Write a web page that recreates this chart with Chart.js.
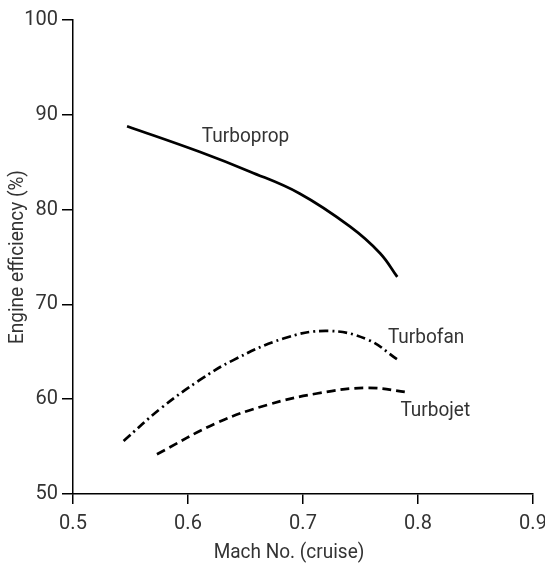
<!DOCTYPE html>
<html>
<head>
<meta charset="utf-8">
<script src="https://cdn.jsdelivr.net/npm/chart.js@4/dist/chart.umd.min.js"></script>
<style>
html,body{margin:0;padding:0;background:#fff;}
#wrap{width:545px;height:564px;}
</style>
</head>
<body>
<div id="wrap"><canvas id="c" width="545" height="564"></canvas></div>
<script>
const xTicks = [0.5, 0.6, 0.7, 0.8, 0.9];
const yTicks = [50, 60, 70, 80, 90, 100];

const turbopropX = [0.547, 0.610, 0.654, 0.697, 0.741, 0.767, 0.782];
const turbopropY = [88.8, 86.1, 84.0, 81.7, 78.2, 75.4, 72.9];

const turbofanX = [0.544, 0.576, 0.61, 0.639, 0.683, 0.721, 0.756, 0.782];
const turbofanY = [55.6, 59.0, 62.0, 64.1, 66.4, 67.2, 66.3, 64.2];

const turbojetX = [0.573, 0.625, 0.669, 0.712, 0.756, 0.793];
const turbojetY = [54.2, 57.5, 59.4, 60.6, 61.2, 60.7];

const curveLabels = ["Turboprop", "Turbofan", "Turbojet"];
const labelX = [0.650, 0.807, 0.815];
const labelY = [87.7, 66.5, 58.8];

const xTitle = "Mach No. (cruise)";
const yTitle = "Engine efficiency (%)";

const FONT = "'Roboto', 'Liberation Sans', sans-serif";
const TEXT = "#333333";

function pts(xs, ys){ return xs.map((x,i)=>({x:x, y:ys[i]})); }

function narrowText(ctx, t, x, y, rot){
  ctx.save();
  ctx.translate(x, y);
  if (rot) ctx.rotate(rot);
  ctx.scale(0.95, 1);
  ctx.fillText(t, 0, 0);
  ctx.restore();
}

const labelPlugin = {
  id: 'labels',
  afterDraw(chart){
    const ctx = chart.ctx;
    const xs = chart.scales.x, ys = chart.scales.y, ca = chart.chartArea;
    ctx.save();
    ctx.fillStyle = TEXT;
    ctx.font = "20px " + FONT;
    ctx.textAlign = 'center';
    ctx.textBaseline = 'middle';
    curveLabels.forEach((t,i)=>{
      narrowText(ctx, t, xs.getPixelForValue(labelX[i]), ys.getPixelForValue(labelY[i]), 0);
    });
    narrowText(ctx, xTitle, (ca.left + ca.right)/2 - 14, ca.bottom + 59, 0);
    narrowText(ctx, yTitle, 18, (ca.top + ca.bottom)/2, -Math.PI/2);
    ctx.restore();
  }
};

const common = {fill:false, borderColor:'#000', borderWidth:2.7, pointRadius:0, showLine:true, tension:0.4};

new Chart(document.getElementById('c'), {
  type: 'scatter',
  data: {
    datasets: [
      Object.assign({label:curveLabels[0], data:pts(turbopropX, turbopropY)}, common),
      Object.assign({label:curveLabels[1], data:pts(turbofanX, turbofanY), borderDash:[9,4,2,4]}, common),
      Object.assign({label:curveLabels[2], data:pts(turbojetX, turbojetY), borderDash:[9,5]}, common)
    ]
  },
  options: {
    responsive:false,
    animation:false,
    layout:{padding:{left:0, right:0, top:20, bottom:0}},
    plugins:{legend:{display:false}, tooltip:{enabled:false}},
    scales:{
      x:{
        type:'linear', min:0.5, max:0.9,
        afterBuildTicks(s){ s.ticks = xTicks.map(v=>({value:v})); },
        afterFit(s){ s.height = 70; s.paddingRight = 12; s.paddingLeft = 0; },
        grid:{drawOnChartArea:false, drawTicks:true, tickLength:10, color:'#000', lineWidth:1.5},
        border:{display:true, color:'#000', width:1.5},
        ticks:{color:TEXT, font:{family:FONT, size:20}, padding:8, callback:v=>v.toFixed(1), maxRotation:0}
      },
      y:{
        type:'linear', min:50, max:100,
        afterBuildTicks(s){ s.ticks = yTicks.map(v=>({value:v})); },
        afterFit(s){ s.width = 73; s.paddingTop = 0; s.paddingBottom = 0; },
        grid:{drawOnChartArea:false, drawTicks:true, tickLength:11, color:'#000', lineWidth:1.5},
        border:{display:true, color:'#000', width:1.5},
        ticks:{color:TEXT, font:{family:FONT, size:20}, padding:4, callback:v=>String(v)}
      }
    }
  },
  plugins:[labelPlugin]
});
</script>
</body>
</html>
